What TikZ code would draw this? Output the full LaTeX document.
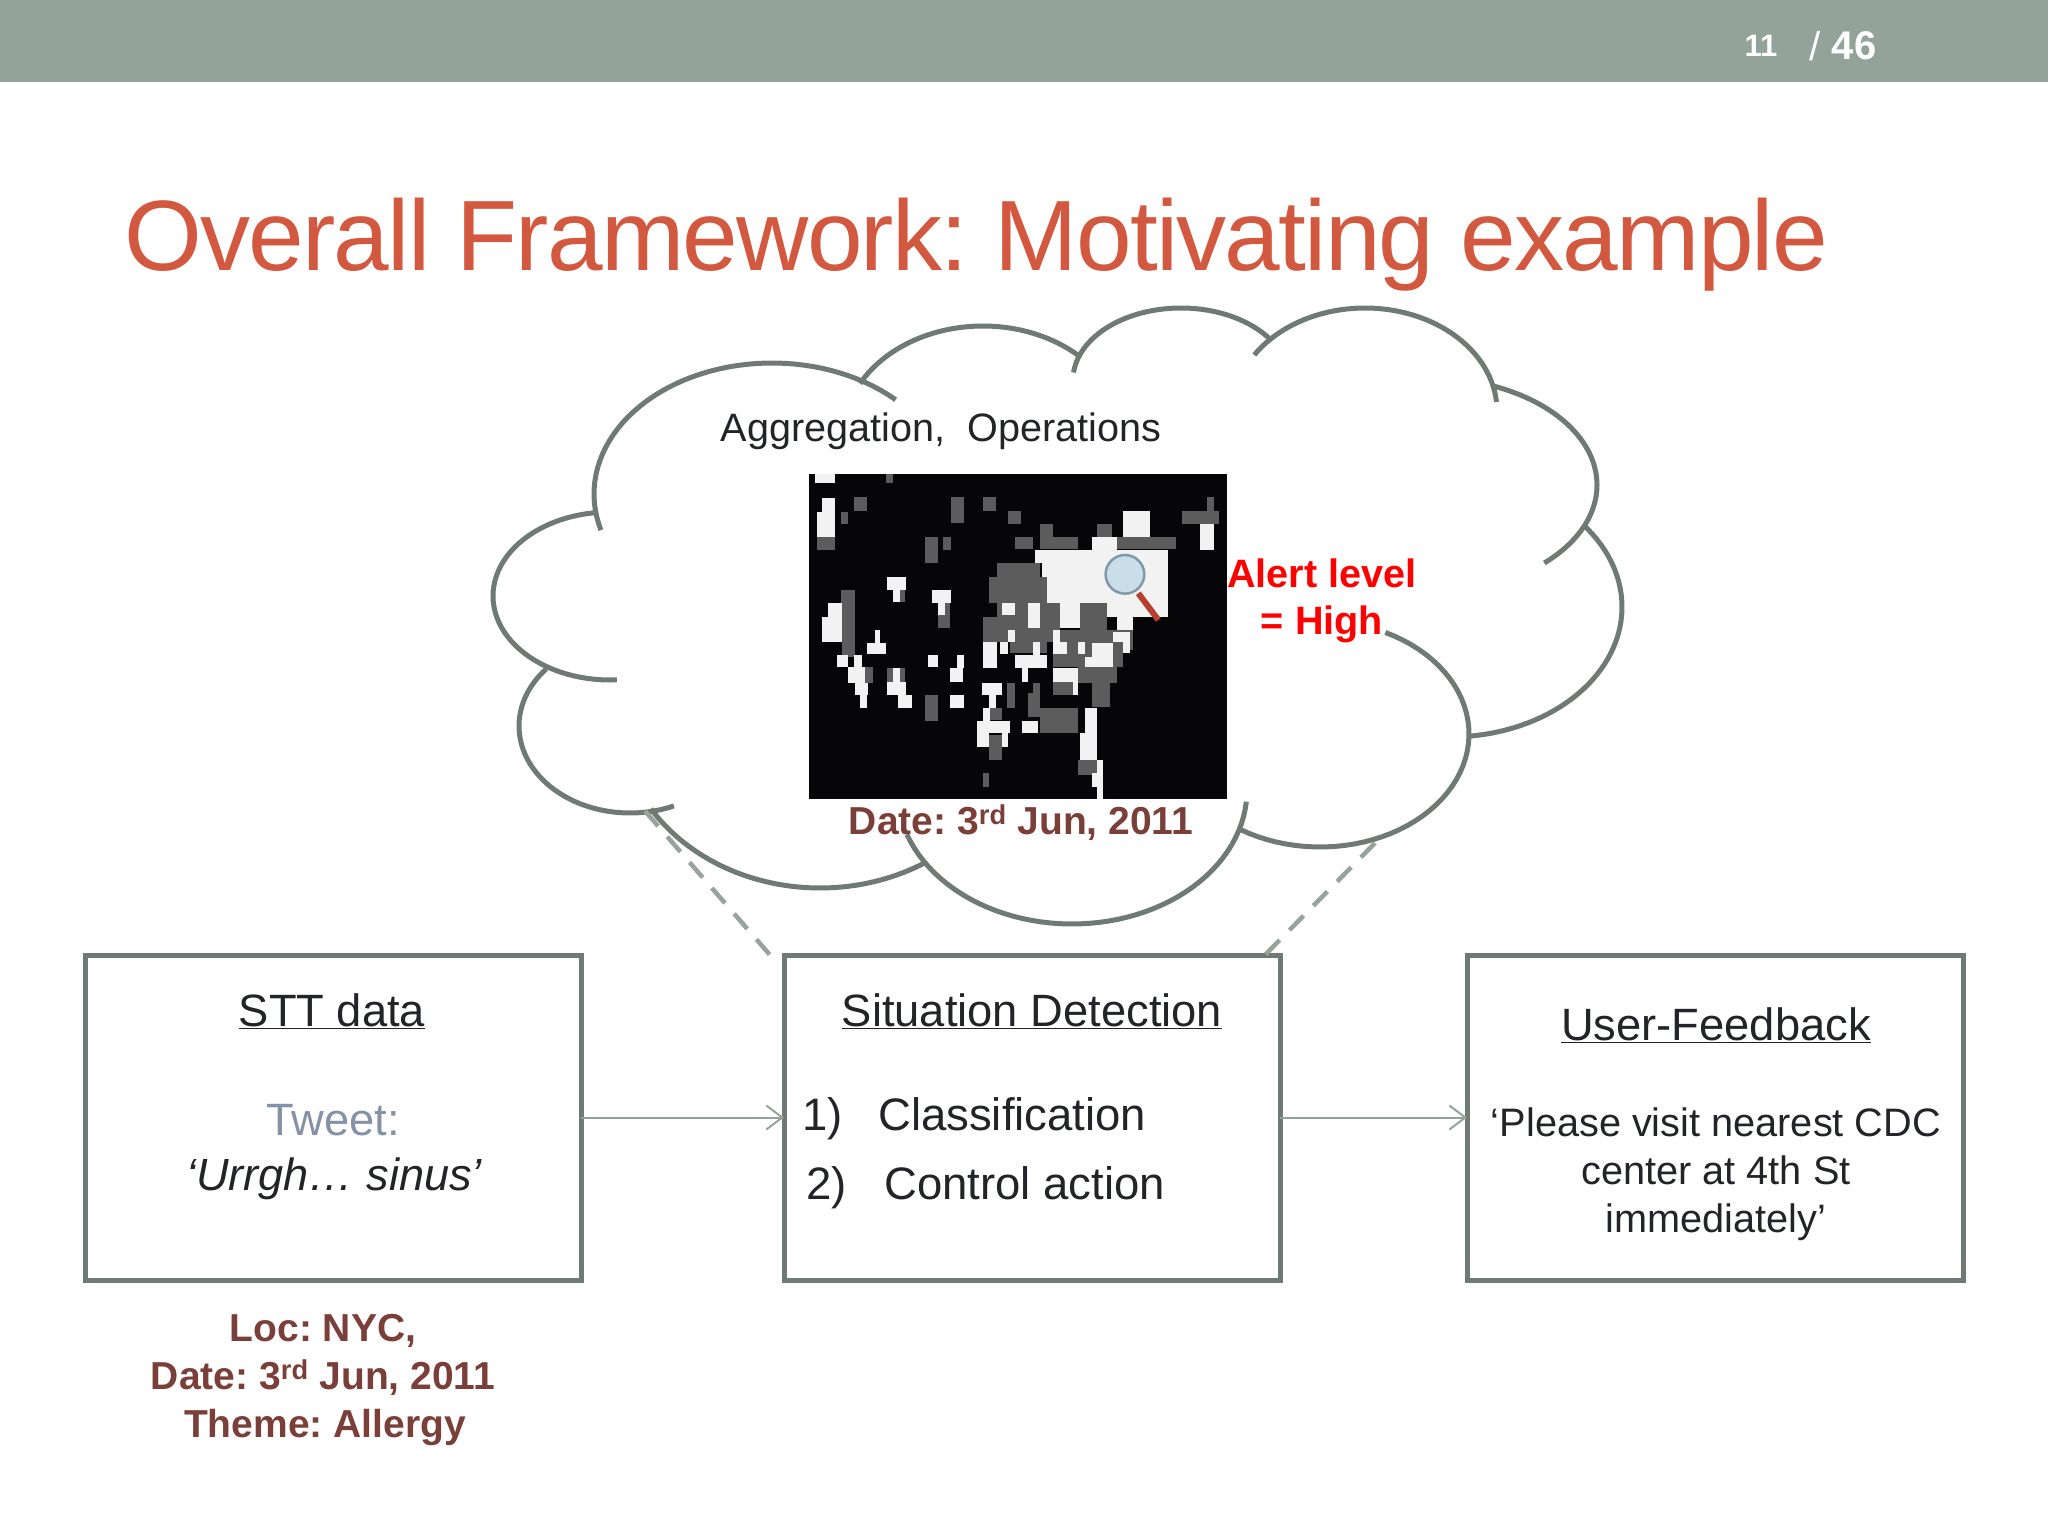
\documentclass[tikz,border=0pt]{standalone}
\usepackage{fontspec}
\setmainfont{Liberation Sans}
\usetikzlibrary{arrows.meta}
\frenchspacing
\definecolor{barcol}{HTML}{93A39B}
\definecolor{titlecol}{HTML}{D2583F}
\definecolor{linecol}{HTML}{6F7A75}
\definecolor{dashcol}{HTML}{98A39E}
\definecolor{browncol}{HTML}{7B3F3A}
\definecolor{tweetcol}{HTML}{8592A6}
\definecolor{inkcol}{HTML}{222428}
\definecolor{mapgrey}{HTML}{5C5C5C}
\definecolor{mapwhite}{HTML}{F2F2F2}
\definecolor{mapblack}{HTML}{060608}
\definecolor{handlecol}{HTML}{B5402F}
\definecolor{lenscol}{HTML}{C9DEE8}
\definecolor{lensrim}{HTML}{7E9AA8}
\newcommand{\fs}[1]{\fontsize{#1}{1.2\dimexpr #1pt\relax}\selectfont}
\newcommand{\cloudlobe}[6]{\draw[cloudline] plot[domain=#5:#6,samples=50,variable=\t] ({#1+#3*cos(\t)},{#2+#4*sin(\t)});}
\tikzset{
  cloudline/.style={draw=linecol,line width=5pt},
  framebox/.style={draw=linecol,line width=5pt,minimum width=496pt,minimum height=325pt,inner sep=0pt,outer sep=0pt,anchor=north west},
  flowarrow/.style={draw=barcol,line width=2pt,-{Straight Barb[length=16pt,width=24pt,line width=2pt]}},
  dashlink/.style={draw=dashcol,line width=4.5pt,dash pattern=on 20pt off 14pt},
  boxhead/.style={font=\fs{45.3},text=inkcol,inner sep=0pt},
  boxtext/.style={font=\fs{45.5},text=inkcol,inner sep=0pt},
  fbtext/.style={font=\fs{39.7},text=inkcol,align=center,inner sep=0pt},
  brownlabel/.style={font=\fs{39}\bfseries,text=browncol,align=center,inner sep=0pt}
}
\begin{document}
\begin{tikzpicture}[x=1pt,y=-1pt]
\useasboundingbox (0,0) rectangle (2048,1536);
\fill[white] (0,0) rectangle (2048,1536);
\fill[barcol] (0,0) rectangle (2048,82);
\node[text=white,font=\fs{31}\bfseries,inner sep=0pt] (pg) at (1761,46) {11};
\node[text=white,font=\fs{40},inner sep=0pt] (sl) at (1815,46) {/};
\node[text=white,font=\fs{40}\bfseries,inner sep=0pt] (tot) at (1854,46) {46};
\node[text=titlecol,font={\fs{100}\addfontfeature{LetterSpace=-1.75}},inner sep=0pt,anchor=base west] (title) at (124,270) {Overall Framework: Motivating example};
% cloud
\cloudlobe{772}{494}{178}{131}{164}{314}
\cloudlobe{983}{436}{140}{110}{208.5}{312.8}
\cloudlobe{1181}{380}{108}{72}{186}{326}
\cloudlobe{1365}{411}{132}{103}{213}{355}
\cloudlobe{1430}{485}{167}{107}{292.3}{406.8}
\cloudlobe{1450}{607}{172}{130}{-38.5}{83}
\cloudlobe{1320}{734}{149}{113}{296}{482.5}
\cloudlobe{1072}{790}{175}{134}{5}{160.6}
\cloudlobe{820}{718}{200}{170}{58}{147.7}
\cloudlobe{630}{726}{111}{87}{66.7}{221}
\cloudlobe{610}{596}{117}{84}{86.6}{262}
% map picture
\begin{scope}[shift={(780pt,-450pt)},x=0.3333pt,y=-0.3333pt]
\fill[mapblack] (88,72) rectangle (1342,1048);
\foreach \a/\b/\c/\d in {110/262/165/300,222/140/262/182,182/185/205/222,512/140/552/220,608/140/648/182,318/72/340/100,435/262/475/340,490/262/512/300,685/182/722/222,705/262/760/298,780/222/820/298,820/262/895/298,950/222/995/262,1010/262/1188/298,1205/182/1318/222,1280/140/1302/182,182/420/225/500,185/500/225/620,650/340/680/380,680/340/780/385,628/380/800/460,650/460/840/500,608/500/840/575,690/575/800/610,840/540/1060/600,900/460/980/540,820/600/1030/650,895/650/1010/700,935/700/990/770,820/695/895/735,760/700/780/770,745/730/780/800,780/775/895/850,680/700/705/775,435/735/475/812,628/775/665/810,628/855/665/930,608/970/628/1010,895/930/950/975,340/420/375/455,245/650/280/700,320/655/375/695,475/460/510/535}
  \fill[mapgrey] (\a,\b) rectangle (\c,\d);
\foreach \a/\b/\c/\d in {105/72/165/100,125/145/165/262,110/185/125/260,320/380/378/420,340/420/360/455,455/420/512/460,475/460/495/495,125/500/185/575,145/460/185/500,285/540/300/580,262/580/318/612,170/615/205/650,222/615/245/650,205/650/255/700,225/700/265/735,240/735/262/775,320/695/378/735,340/655/360/695,355/735/395/775,445/615/475/650,510/655/550/695,530/615/552/655,510/735/552/775,608/575/650/655,660/575/685/612,605/700/665/735,628/735/648/775,610/775/630/812,590/812/690/850,590/850/628/890,665/850/685/890,725/812/775/850,705/615/800/655,725/655/745/695,760/575/780/615,665/460/705/495,685/540/705/575,745/460/780/535,765/300/1165/340,785/340/1165/380,800/380/1165/460,840/460/900/535,980/460/1165/500,1010/500/1060/540,935/262/1010/300,1030/182/1110/262,1260/222/1302/300,820/540/840/610,820/575/860/612,895/575/915/612,935/580/1000/650,915/620/1000/650,1000/545/1050/575,1030/575/1050/610,820/655/895/695,880/695/895/735,915/775/950/850,900/850/950/930,935/970/970/1010,950/930/970/1048}
  \fill[mapwhite] (\a,\b) rectangle (\c,\d);
\draw[draw=handlecol,line width=6pt] (1075,430) -- (1135,510);
\draw[draw=lensrim,fill=lenscol,line width=2.5pt] (1035,373) circle[radius=58];
\end{scope}
% texts in the cloud
\node[font=\fs{39.6},text=inkcol,inner sep=0pt,anchor=base] (agg) at (941,441) {Aggregation,\ \ Operations};
\node[font=\fs{39.6}\bfseries,text=red,align=center,inner sep=0pt] (alert) at (1322,601) {Alert level\\= High};
\node[brownlabel,anchor=base] (mapdate) at (1021,834) {Date: 3\textsuperscript{rd} Jun, 2011};
% boxes
\node[framebox] (stt) at (85,955) {};
\node[framebox] (sit) at (784,955) {};
\node[framebox] (fb) at (1467,955) {};
\node[boxhead,anchor=base] (stth) at (332,1026) {\underline{STT data}};
\node[font=\fs{45.3},text=tweetcol,inner sep=0pt,anchor=base] (tw1) at (333,1135) {Tweet:};
\node[font=\fs{45.1}\itshape,text=inkcol,inner sep=0pt,anchor=base] (tw2) at (334,1190) {‘Urrgh… sinus’};
\node[boxhead,anchor=base] (sith) at (1032,1026) {\underline{Situation Detection}};
\node[boxtext,anchor=base west] (n1) at (802,1130) {1)};
\node[boxtext,anchor=base west] (c1) at (878,1130) {Classification};
\node[boxtext,anchor=base west] (n2) at (806,1199) {2)};
\node[boxtext,anchor=base west] (c2) at (884,1199) {Control action};
\node[boxhead,anchor=base] (fbh) at (1716,1040) {\underline{User-Feedback}};
\node[fbtext,anchor=base] (f1) at (1716,1136) {‘Please visit nearest CDC};
\node[fbtext,anchor=base] (f2) at (1716,1184) {center at 4th St};
\node[fbtext,anchor=base] (f3) at (1716,1232) {immediately’};
\node[brownlabel,anchor=base] (b1) at (323,1341) {Loc: NYC,};
\node[brownlabel,anchor=base] (b2) at (323,1389) {Date: 3\textsuperscript{rd} Jun, 2011};
\node[brownlabel,anchor=base] (b3) at (325,1437) {Theme: Allergy};
% connectors
\draw[flowarrow] (stt.east) -- (sit.west);
\draw[flowarrow] (sit.east) -- (fb.west);
\coordinate (cl) at (645,811);
\coordinate (cr) at (1375,843);
\coordinate (sl2) at (770,955);
\coordinate (sr2) at (1263,957);
\draw[dashlink] (cl) -- (sl2);
\draw[dashlink] (cr) -- (sr2);
\end{tikzpicture}
\end{document}
